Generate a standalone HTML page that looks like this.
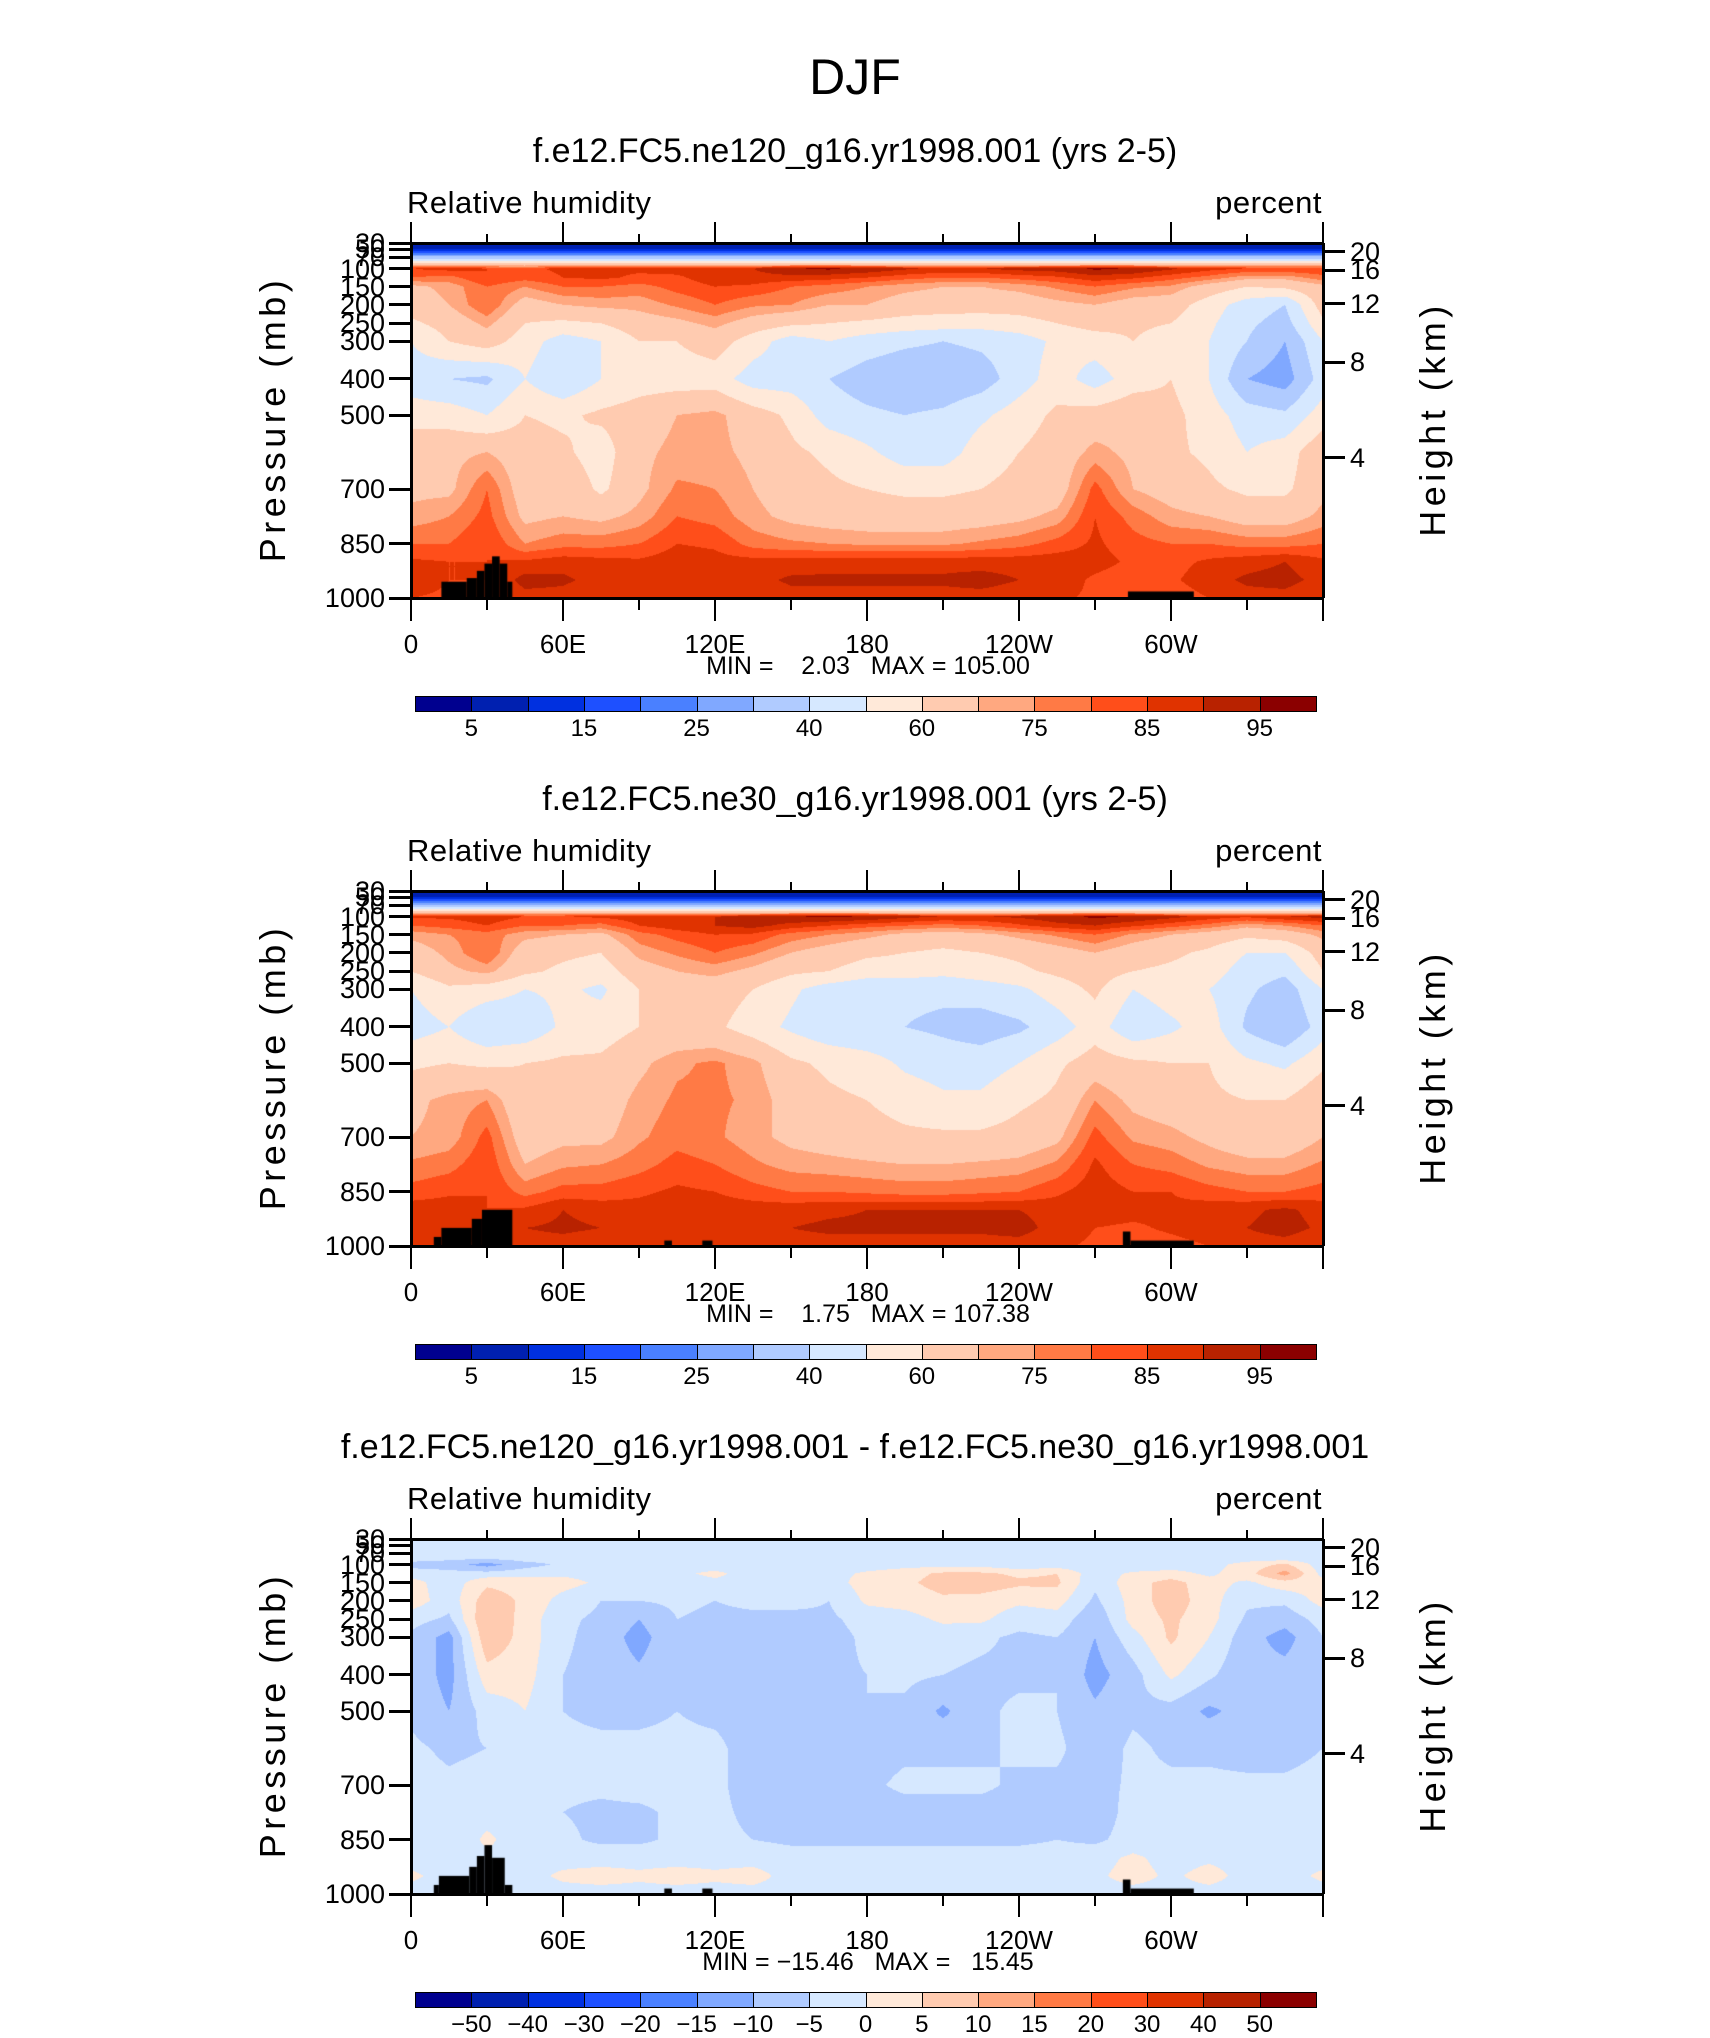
<!DOCTYPE html>
<html><head><meta charset="utf-8">
<style>
body{margin:0;background:#fff;}
#root{position:relative;width:1710px;height:2038px;overflow:hidden;background:#fff;font-family:"Liberation Sans",sans-serif;color:#000;}
.t{position:absolute;white-space:nowrap;}
canvas{position:absolute;}
</style></head>
<body>
<div id="root">
<div class="t" style="left:0;width:1710px;top:48px;text-align:center;font-size:50px;">DJF</div>
</div>
<script>
// ---------- data ----------
const lons=[0,15,30,45,60,75,90,105,120,135,150,165,180,195,210,225,240,255,270,285,300,315,330,345,360];
const levels=[30,50,70,85,100,125,150,200,250,300,400,500,600,700,775,850,900,950,1000];
const rhNe120=[
[3,3,3,3,3,3,3,3,3,3,3,3,3,3,3,3,3,3,3,3,3,3,3,3,3],
[10,10,10,10,10,10,10,10,10,10,10,10,10,10,10,10,10,10,10,10,10,10,10,10,10],
[32,32,32,32,32,32,32,32,32,32,32,32,32,32,32,32,32,32,32,32,32,32,32,32,32],
[58,58,58,58,58,58,58,58,58,58,58,58,58,58,58,58,58,58,58,58,58,58,58,58,58],
[85,87,85,84,86,86,86,87,88,90,95,96,94,91,89,90,92,93,96,95,91,87,85,85,85],
[80,78,85,82,85,86,84,84,88,88,88,87,85,82,80,80,82,84,88,86,82,78,72,72,78],
[68,72,80,75,80,80,78,82,85,84,80,78,75,72,70,70,72,76,80,76,74,66,60,62,68],
[65,70,80,66,70,72,72,76,80,76,75,70,70,66,65,65,65,68,70,66,65,55,45,40,65],
[58,64,72,60,58,60,66,68,72,66,62,60,58,56,55,54,56,60,64,62,60,52,42,36,58],
[50,60,65,55,45,50,60,60,65,55,45,50,45,42,40,42,45,52,55,60,55,50,40,30,50],
[45,40,38,50,40,50,55,55,55,45,45,40,35,32,32,35,45,55,45,55,60,50,30,25,45],
[55,55,50,60,58,62,65,70,72,65,58,45,42,40,42,48,55,62,65,68,63,55,45,42,55],
[68,68,70,65,62,55,68,72,72,68,62,58,52,45,45,55,60,65,72,68,62,58,50,55,68],
[68,68,80,65,68,58,68,76,75,70,65,62,60,58,58,60,63,65,82,70,66,62,58,58,68],
[72,75,82,68,70,68,72,80,78,72,68,66,65,65,65,66,68,72,85,78,72,70,66,66,72],
[80,80,85,75,78,78,80,85,84,78,76,75,74,74,74,76,78,82,86,82,80,80,78,78,80],
[86,85,85,86,88,87,86,88,87,87,87,88,88,88,88,88,88,88,87,84,83,86,88,90,86],
[88,85,85,92,91,88,86,88,86,88,91,91,91,91,91,92,90,88,84,82,84,88,91,92,88],
[85,84,84,88,88,86,85,86,85,86,88,88,88,88,88,88,87,86,84,80,82,85,88,88,85]];
const rhNe30=[
[3,3,3,3,3,3,3,3,3,3,3,3,3,3,3,3,3,3,3,3,3,3,3,3,3],
[10,10,10,10,10,10,10,10,10,10,10,10,10,10,10,10,10,10,10,10,10,10,10,10,10],
[30,30,30,30,30,30,30,30,30,30,30,30,30,30,30,30,30,30,30,30,30,30,30,30,30],
[58,58,58,58,58,58,58,58,58,58,58,58,58,58,58,58,58,58,58,58,58,58,58,58,58],
[86,86,88,85,85,86,88,90,90,92,95,96,95,92,90,90,91,94,96,95,92,88,86,90,92],
[80,82,85,80,80,78,85,88,90,92,88,85,82,80,78,80,84,88,90,86,82,78,72,75,80],
[72,75,78,72,70,68,78,82,85,84,78,75,72,68,66,68,72,76,80,74,70,66,62,65,72],
[65,72,80,65,62,60,72,76,80,76,70,66,62,60,58,60,62,66,70,65,62,58,50,50,65],
[60,68,72,62,58,55,66,70,72,68,62,60,55,55,53,55,58,62,65,60,58,55,45,42,60],
[50,58,55,50,52,48,60,65,65,60,52,45,42,42,42,45,48,55,62,50,55,50,42,35,50],
[45,50,40,42,52,55,60,62,62,55,48,42,40,40,38,35,38,45,55,42,48,55,38,30,45],
[58,60,58,60,62,62,68,74,76,72,62,58,55,48,45,45,50,58,65,62,60,60,52,48,58],
[68,72,75,62,65,65,72,76,76,74,66,62,60,56,52,52,58,62,75,68,65,62,60,60,68],
[70,72,82,65,68,68,74,78,76,72,68,66,64,62,62,62,64,68,82,74,72,68,64,64,70],
[76,78,84,70,74,75,78,82,80,76,73,72,71,70,70,71,72,76,86,80,78,74,72,72,76],
[82,84,85,78,82,82,84,86,85,82,80,80,79,78,78,79,80,84,88,85,85,82,80,80,82],
[88,88,85,86,90,88,87,88,88,88,88,89,90,90,90,90,90,88,88,87,86,88,89,91,88],
[89,88,86,90,91,90,88,90,89,89,90,91,91,91,91,91,92,88,85,84,86,88,90,92,89],
[86,85,84,88,88,87,86,87,86,87,88,88,88,88,88,88,88,86,84,82,83,85,88,88,86]];
const rhDiff=[
[1,1,1,1,1,1,1,1,1,1,1,1,1,1,1,1,1,1,1,1,1,1,1,1,1],
[-2,-2,-2,-2,-2,-2,-2,-2,-2,-2,-2,-2,-2,-2,-2,-2,-2,-2,-2,-2,-2,-2,-2,-2,-2],
[-3,-3,-3,-3,-3,-3,-3,-3,-3,-3,-3,-3,-3,-3,-3,-3,-3,-3,-3,-3,-3,-3,-3,-3,-3],
[-3,-4,-5,-3,-3,-3,-3,-3,-3,-3,-3,-3,-3,-3,-3,-3,-4,-3,-3,-3,-3,-3,-2,-2,-3],
[-7,-8,-12,-7,-4,-3,-3,-2,-2,-3,-3,-3,-3,-2,-2,-2,-4,-3,-3,-4,-3,-2,2,6,-3],
[-2,-3,-3,-2,-1,-2,-3,-1,1,-2,-3,-2,1,3,6,6,4,5,-3,1,2,-1,3,12,-2],
[2,-3,4,3,2,-1,-3,-2,-1,-2,-3,-2,2,4,7,8,6,6,-4,3,7,2,-1,3,2],
[3,-3,8,4,-2,-5,-5,-4,-5,-4,-3,-5,1,2,4,3,1,2,-6,2,8,2,-4,-4,2],
[-3,-6,10,3,-4,-6,-10,-5,-6,-6,-7,-6,-3,-2,1,1,-3,-2,-9,2,6,2,-6,-8,-3],
[-6,-12,9,3,-4,-7,-12,-6,-6,-8,-9,-7,-4,-3,-3,-4,-6,-5,-10,-2,6,0,-8,-12,-5],
[-6,-12,3,2,-5,-7,-9,-6,-6,-8,-7,-6,-5,-4,-5,-6,-6,-5,-12,-7,1,-4,-9,-8,-6],
[-6,-10,-3,0,-5,-6,-6,-5,-6,-7,-7,-6,-5,-6,-11,-6,-4,-5,-9,-6,-7,-11,-8,-7,-6],
[-4,-6,-5,-3,-4,-4,-4,-4,-4,-7,-7,-7,-7,-6,-6,-6,-4,-4,-8,-4,-6,-6,-7,-7,-5],
[-3,-4,-3,-3,-4,-4,-3,-3,-4,-7,-7,-7,-6,-4,-4,-4,-6,-6,-7,-4,-4,-4,-4,-4,-3],
[-3,-4,-2,-3,-5,-6,-6,-4,-4,-6,-7,-7,-7,-7,-7,-7,-7,-6,-8,-3,-4,-3,-3,-3,-3],
[-3,-4,1,-3,-4,-6,-6,-4,-4,-5,-6,-6,-6,-6,-6,-6,-6,-5,-6,-3,-3,-3,-3,-3,-3],
[-2,-3,-1,-2,-2,-2,-2,-2,-2,-2,-3,-3,-3,-3,-3,-3,-3,-3,-2,1,-2,-1,-2,-2,-2],
[1,-2,-1,-2,1,2,1,2,1,2,-2,-1,-1,-2,-2,-2,-2,-2,-1,2,-1,2,-2,-2,1],
[-2,-2,-2,-2,-2,-2,-2,-2,-2,-2,-2,-2,-2,-2,-2,-2,-2,-2,-2,-2,-2,-2,-2,-2,-2]];
// topography segments: [lonStart, lonEnd, surface pressure]
const topo1=[[12,22,955],[22,26,945],[26,29,925],[29,32,905],[32,35,885],[35,38,905],[38,40,955],[283,309,982]];
const topo2=[[9,12,975],[12,24,950],[24,28,925],[28,40,900],[100,103,985],[115,119,985],[281,284,960],[284,309,985]];
const topo3=[[9,11,975],[11,23,950],[23,26,925],[26,29,895],[29,32,865],[32,37,900],[37,40,975],[100,103,985],[115,119,985],[281,284,960],[284,309,985]];
const boundsRH=[5,10,15,20,25,30,40,50,60,70,75,80,85,90,95];
const boundsDiff=[-50,-40,-30,-20,-15,-10,-5,0,5,10,15,20,30,40,50];
const labelsRH=["5","15","25","40","60","75","85","95"];
const labelsDiff=["\u221250","\u221240","\u221230","\u221220","\u221215","\u221210","\u22125","0","5","10","15","20","30","40","50"];
const pTicks=[30,50,70,100,150,200,250,300,400,500,700,850,1000];
const hTicks=["20","16","12","8","4"];
const lonTicks=["0","60E","120E","180","120W","60W"];
// ---------- axis mapping ----------
const COLORS=["#00008f","#0020b0","#0030e0","#1e50ff","#4a80ff","#80a8ff","#b0cbff","#d6e8ff","#ffe9d9","#ffcbb0","#ffa880","#ff7a45","#ff4e1a","#e03300","#b82200","#8b0000"];
const pTab=[[30,0],[50,.018],[70,.040],[100,.072],[150,.123],[200,.174],[250,.226],[300,.277],[400,.383],[500,.485],[700,.693],[850,.847],[1000,1]];
const hFrac=[.025,.077,.171,.336,.605];
const PX=411,PW=912,PH=355;
function pToF(p){for(let i=0;i<pTab.length-1;i++){const a=pTab[i],b=pTab[i+1];if(p<=b[0])return a[1]+(p-a[0])/(b[0]-a[0])*(b[1]-a[1]);}return 1;}
function fToP(f){for(let i=0;i<pTab.length-1;i++){const a=pTab[i],b=pTab[i+1];if(f<=b[1])return a[0]+(f-a[1])/(b[1]-a[1])*(b[0]-a[0]);}return 1000;}
function lonToX(l){return PX+l/360*PW;}
function binIdx(v,b){let k=0;while(k<b.length&&v>=b[k])k++;return k;}
function sample(data,lon,p){
  let i=Math.min(lons.length-2,Math.floor(lon/15));let tx=(lon-lons[i])/15;
  let k=0;while(k<levels.length-2&&p>levels[k+1])k++;
  let ty=Math.max(0,Math.min(1,(p-levels[k])/(levels[k+1]-levels[k])));
  const a=data[k][i],b=data[k][i+1],c=data[k+1][i],d=data[k+1][i+1];
  return (a*(1-tx)+b*tx)*(1-ty)+(c*(1-tx)+d*tx)*ty;
}
const root=document.getElementById('root');
function txt(s,l,t,size,name,extra){const d=document.createElement('div');d.className='t';d.textContent=s;d.style.left=l+'px';d.style.top=t+'px';d.style.fontSize=size+'px';if(extra)d.style.cssText+=extra;


root.appendChild(d);return d;}
function line(x1,y1,x2,y2,w,name){const d=document.createElement('div');d.style.position='absolute';d.style.background='#000';
if(x1===x2){d.style.left=(x1-w/2)+'px';d.style.top=Math.min(y1,y2)+'px';d.style.width=w+'px';d.style.height=Math.abs(y2-y1)+'px';}
else{d.style.left=Math.min(x1,x2)+'px';d.style.top=(y1-w/2)+'px';d.style.height=w+'px';d.style.width=Math.abs(x2-x1)+'px';}


root.appendChild(d);}
function panel(cfg){
  const T=cfg.top;
  txt(cfg.title,0,T-111,34,'panel-title','width:1710px;text-align:center;');
  txt('Relative humidity',PX-4,T-58,31,'variable-label','letter-spacing:0.5px;');
  txt('percent',1322-160,T-58,31,'units-label','width:160px;text-align:right;letter-spacing:0.5px;');
  const cv=document.createElement('canvas');cv.width=PW;cv.height=PH;cv.style.left=PX+'px';cv.style.top=T+'px';
  
  
  root.appendChild(cv);
  const ctx=cv.getContext('2d');const img=ctx.createImageData(PW,PH);
  const rgb=COLORS.map(c=>[parseInt(c.slice(1,3),16),parseInt(c.slice(3,5),16),parseInt(c.slice(5,7),16)]);
  for(let y=0;y<PH;y++){const p=fToP((y+0.5)/PH);
    for(let x=0;x<PW;x++){const lon=(x+0.5)/PW*360;const v=sample(cfg.data,lon,p);const c=rgb[binIdx(v,cfg.bounds)];const o=(y*PW+x)*4;img.data[o]=c[0];img.data[o+1]=c[1];img.data[o+2]=c[2];img.data[o+3]=255;}}
  ctx.putImageData(img,0,0);
  ctx.fillStyle='#000';
  cfg.topo.forEach(s=>{const x0=s[0]/360*PW,x1=s[1]/360*PW,y0=pToF(s[2])*PH;ctx.fillRect(x0,y0,x1-x0,PH-y0);});
  line(PX,T,PX+PW,T,3,'plot-frame-top');line(PX,T+PH,PX+PW,T+PH,3,'plot-frame-bottom');
  line(PX,T,PX,T+PH,3,'plot-frame-left');line(PX+PW,T,PX+PW,T+PH,3,'plot-frame-right');
  for(let l=0;l<=360;l+=30){const x=lonToX(l);const maj=l%60===0;
    line(x,T-(maj?21:9),x,T,2.5,'top-tick');
    line(x,T+PH,x,T+PH+(maj?23:12),2.5,'bottom-tick');}
  lonTicks.forEach((s,i)=>{txt(s,lonToX(i*60)-60,T+PH+31,26,'x-tick-label','width:120px;text-align:center;');});
  txt(cfg.minmax,0,T+PH+54,25,'min-max-label','width:1736px;text-align:center;white-space:pre;');
  pTicks.forEach(p=>{const y=T+pToF(p)*PH;line(PX-22,y,PX,y,3,'pressure-tick');
    txt(String(p),PX-22-4-90,y-15,27,'y-tick-label','width:90px;text-align:right;');});
  hTicks.forEach((h,i)=>{const y=T+hFrac[i]*PH;line(PX+PW,y,PX+PW+22,y,3,'height-tick');
    txt(h,PX+PW+27,y-15,27,'height-tick-label');});
  txt('Pressure (mb)',273-170,T+PH/2-23,36,'y-axis-title','width:340px;text-align:center;letter-spacing:4.5px;transform:rotate(-90deg);');
  txt('Height (km)',1433-150,T+PH/2-23,36,'right-axis-title','width:300px;text-align:center;letter-spacing:4.5px;transform:rotate(-90deg);');
  const cy=T+453,cx=415,cw=901/16;
  COLORS.forEach((c,i)=>{const d=document.createElement('div');d.style.cssText='position:absolute;box-sizing:border-box;border:1.5px solid #000;left:'+(cx+i*cw)+'px;top:'+cy+'px;width:'+(cw+1)+'px;height:16px;background:'+c+';';
    
    
    root.appendChild(d);});
  cfg.labels.forEach((s,i)=>{const bi=cfg.labels.length===8?2*i+1:i+1;txt(s,cx+bi*cw-40,cy+19,24,'colorbar-label','width:80px;text-align:center;');});
}
panel({top:243,title:'f.e12.FC5.ne120_g16.yr1998.001 (yrs 2-5)',data:rhNe120,bounds:boundsRH,labels:labelsRH,topo:topo1,minmax:'MIN =    2.03   MAX = 105.00'});
panel({top:891,title:'f.e12.FC5.ne30_g16.yr1998.001 (yrs 2-5)',data:rhNe30,bounds:boundsRH,labels:labelsRH,topo:topo2,minmax:'MIN =    1.75   MAX = 107.38'});
panel({top:1539,title:'f.e12.FC5.ne120_g16.yr1998.001 - f.e12.FC5.ne30_g16.yr1998.001',data:rhDiff,bounds:boundsDiff,labels:labelsDiff,topo:topo3,minmax:'MIN = \u221215.46   MAX =   15.45'});
</script>
</body></html>
